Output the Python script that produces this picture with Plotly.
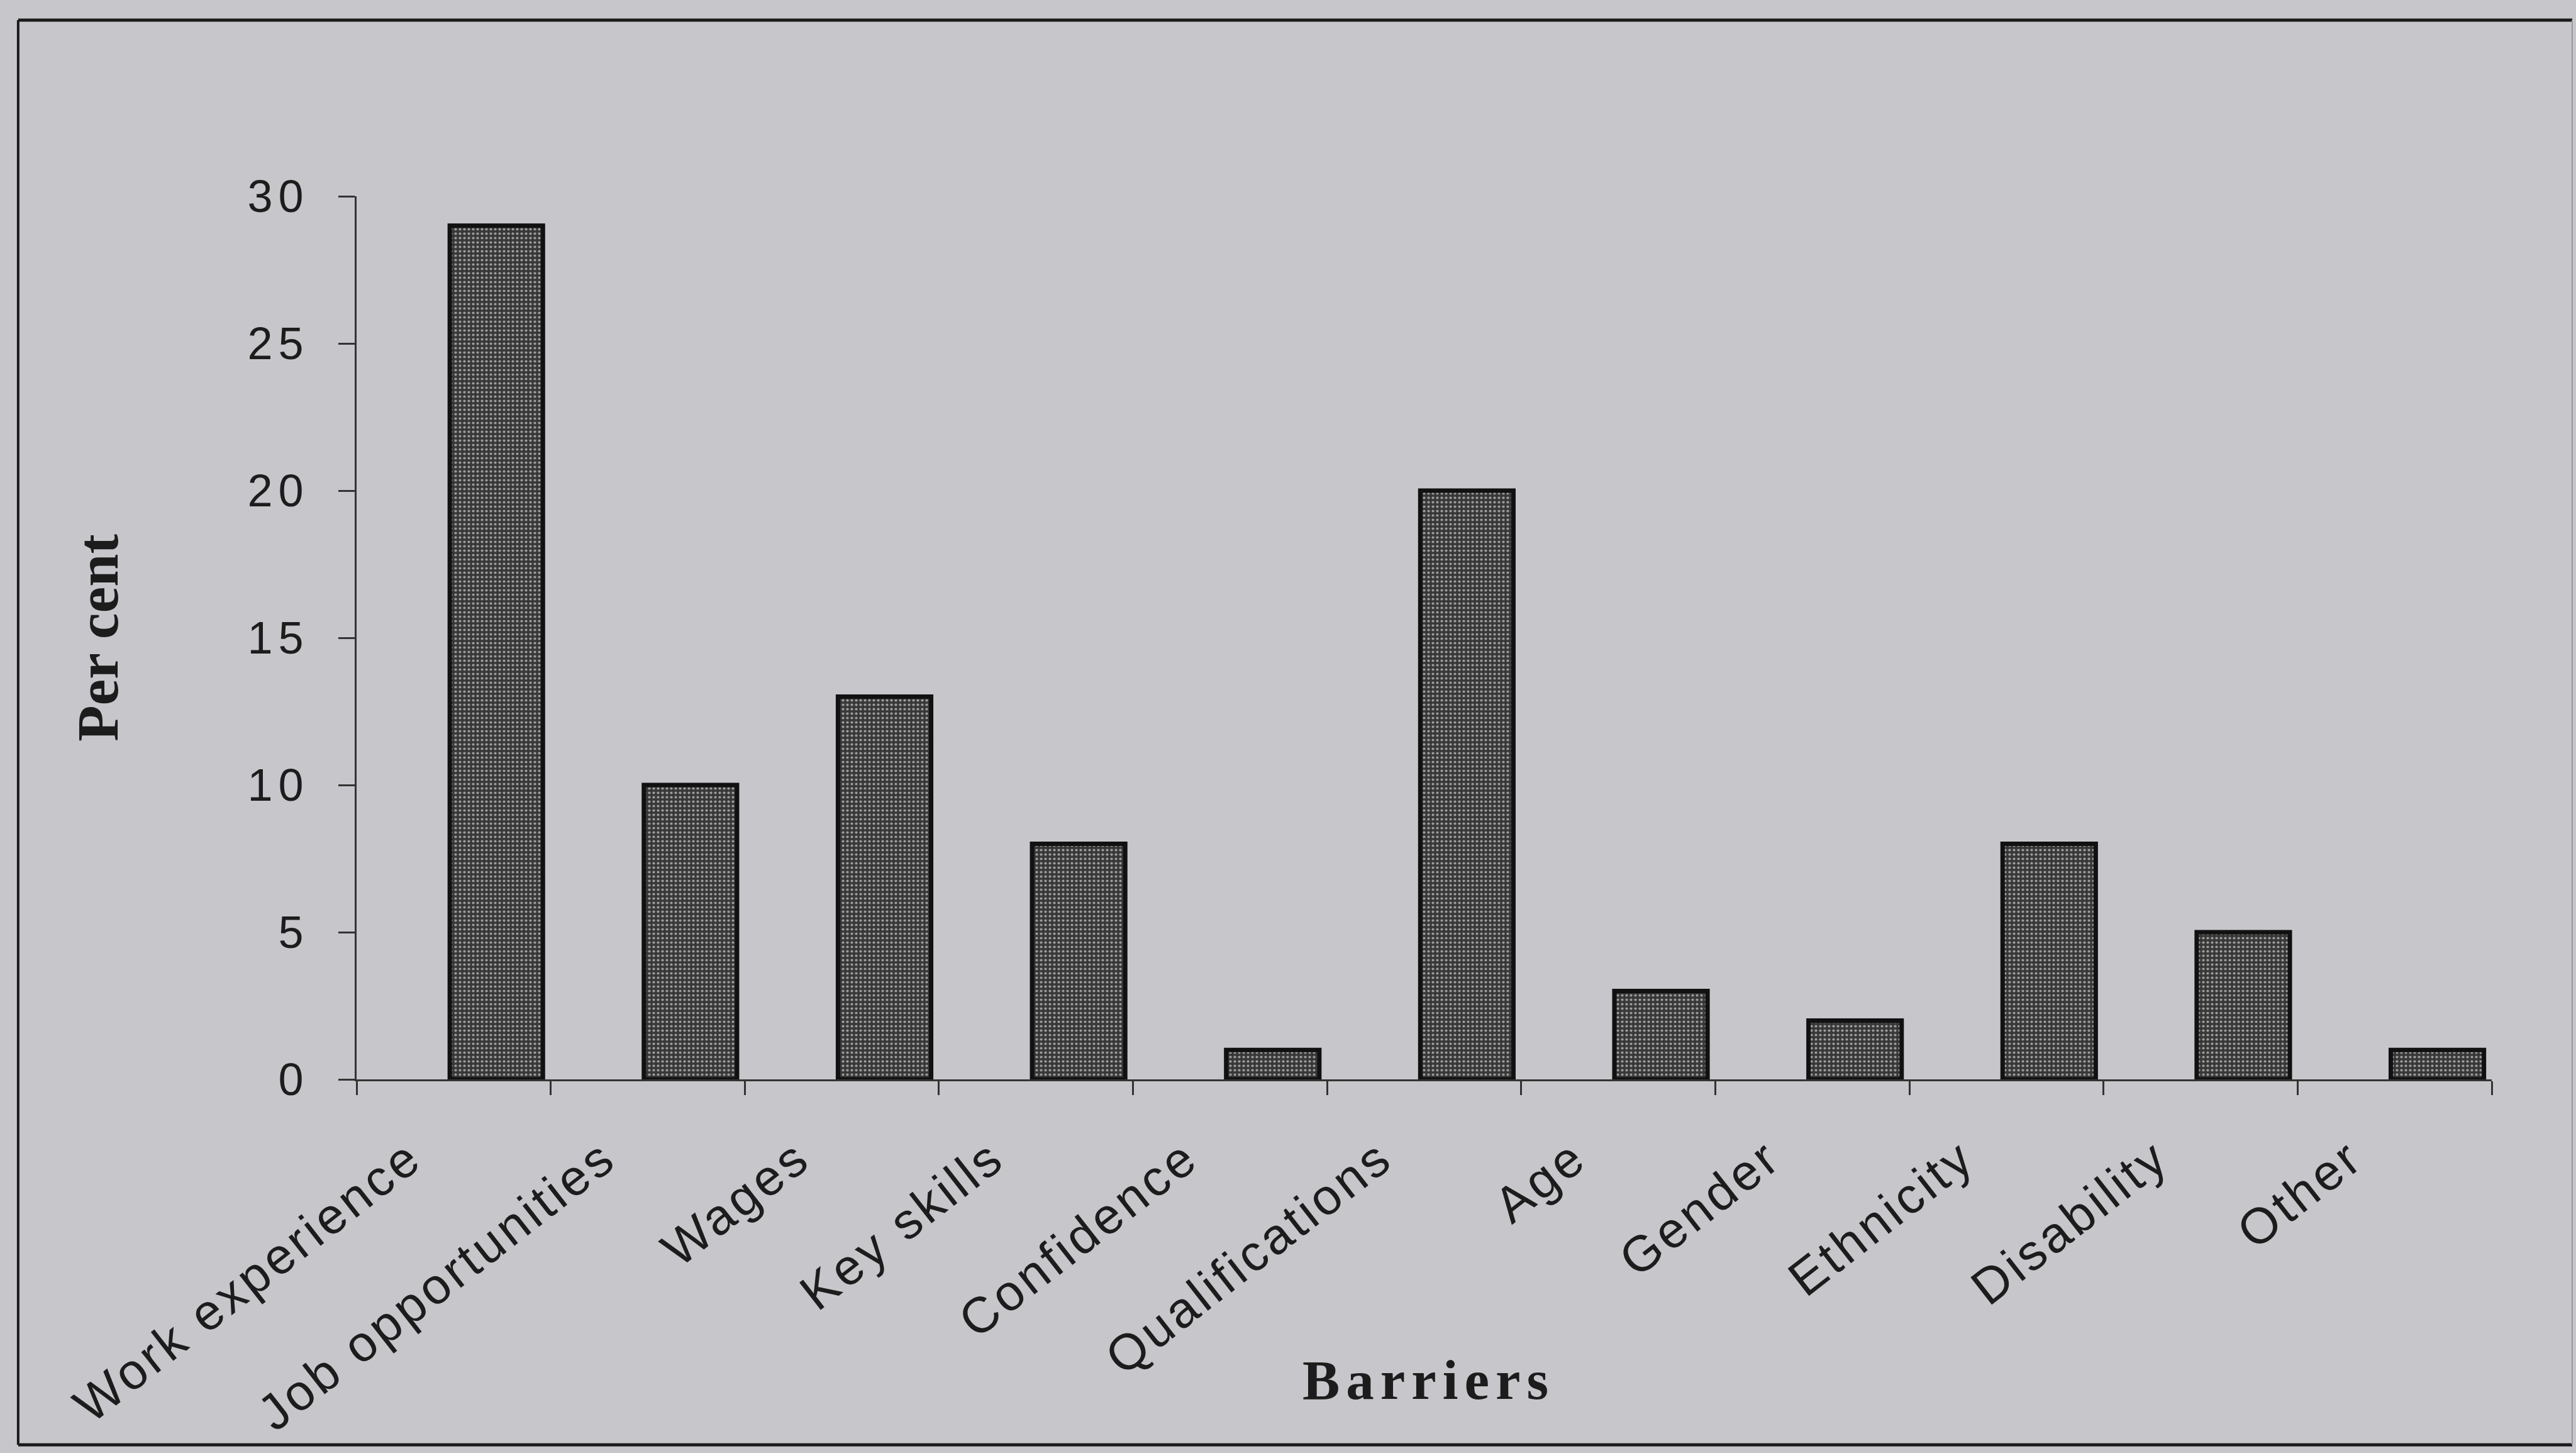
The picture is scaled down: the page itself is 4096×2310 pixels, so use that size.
import plotly.graph_objects as go

categories = ["Work experience", "Job opportunities", "Wages", "Key skills",
              "Confidence", "Qualifications", "Age", "Gender", "Ethnicity",
              "Disability", "Other"]
values = [29, 10, 13, 8, 1, 20, 3, 2, 8, 5, 1]
y_ticks = [0, 5, 10, 15, 20, 25, 30]

BG = "#c6c6cb"
INK = "#1c1c1c"

fig = go.Figure()
fig.add_trace(go.Bar(
    x=categories, y=values,
    width=0.48, offset=-0.02,
    marker=dict(
        color="#3c3c3c",
        line=dict(color="#111111", width=7),
        pattern=dict(shape=".", bgcolor="#383838", fgcolor="#9c9c9c",
                     size=7, solidity=0.28, fillmode="replace"),
    ),
    hoverinfo="skip",
))

fig.update_layout(
    width=4096, height=2310,
    margin=dict(l=567, r=134, t=312, b=594, autoexpand=False),
    paper_bgcolor=BG, plot_bgcolor=BG,
    showlegend=False,
    bargap=0.52,
)

fig.update_xaxes(
    type="category", tickson="boundaries",
    ticks="outside", ticklen=22, tickwidth=3, tickcolor="#333333",
    showline=True, linecolor="#333333", linewidth=3,
    showgrid=False, zeroline=False,
    tickangle=-38,
    tickfont=dict(family="Arial, Liberation Sans, sans-serif", size=80, color=INK),
    ticklabelstandoff=44,
    ticklabelshift=-70,
    automargin=False,
)
fig.update_yaxes(
    range=[0, 30], tickvals=y_ticks, ticktext=[str(v) for v in y_ticks],
    ticks="outside", ticklen=26, tickwidth=3, tickcolor="#333333",
    showline=True, linecolor="#333333", linewidth=3,
    showgrid=False, zeroline=False,
    tickfont=dict(family="Arial, Liberation Sans, sans-serif", size=72, color=INK),
    ticklabelstandoff=32,
    automargin=False,
)

fig.add_annotation(
    text="Per cent", xref="paper", yref="paper", x=-0.1214, y=0.5,
    xanchor="center", yanchor="middle", textangle=-90, showarrow=False,
    font=dict(family="Times New Roman, Liberation Serif, serif", size=94,
              color=INK, weight="bold"),
)
fig.add_annotation(
    text="Barriers", xref="paper", yref="paper", x=0.5022, y=-0.3405,
    xanchor="center", yanchor="middle", showarrow=False,
    font=dict(family="Times New Roman, Liberation Serif, serif", size=89,
              color=INK, weight="bold"),
)

# outer frame of the figure
frame = dict(xref="paper", yref="paper", type="line")
fig.add_shape(**frame, x0=-0.1585, x1=-0.1585, y0=-0.4138, y1=1.1994,
              line=dict(color="#1a1a1a", width=4))
fig.add_shape(**frame, x0=-0.1585, x1=1.0377, y0=1.1994, y1=1.1994,
              line=dict(color="#1a1a1a", width=5))
fig.add_shape(**frame, x0=-0.1585, x1=1.0377, y0=-0.4138, y1=-0.4138,
              line=dict(color="#1a1a1a", width=5))
fig.add_shape(**frame, x0=1.0377, x1=1.0377, y0=-0.4138, y1=1.1994,
              line=dict(color="#9a9aa0", width=2))

post = """
(function(){
  function sp(){
    var gd = document.getElementById('{plot_id}');
    gd.querySelectorAll('.xtick text').forEach(function(t){t.style.letterSpacing='5px';});
    gd.querySelectorAll('.ytick text').forEach(function(t){t.style.letterSpacing='9px';});
    gd.querySelectorAll('.annotation-text').forEach(function(t){
      if (t.textContent === 'Barriers') { t.style.letterSpacing='10px'; }
    });
  }
  sp(); setTimeout(sp, 0); setTimeout(sp, 200);
})();
"""
fig.write_html("out.html", post_script=post)
